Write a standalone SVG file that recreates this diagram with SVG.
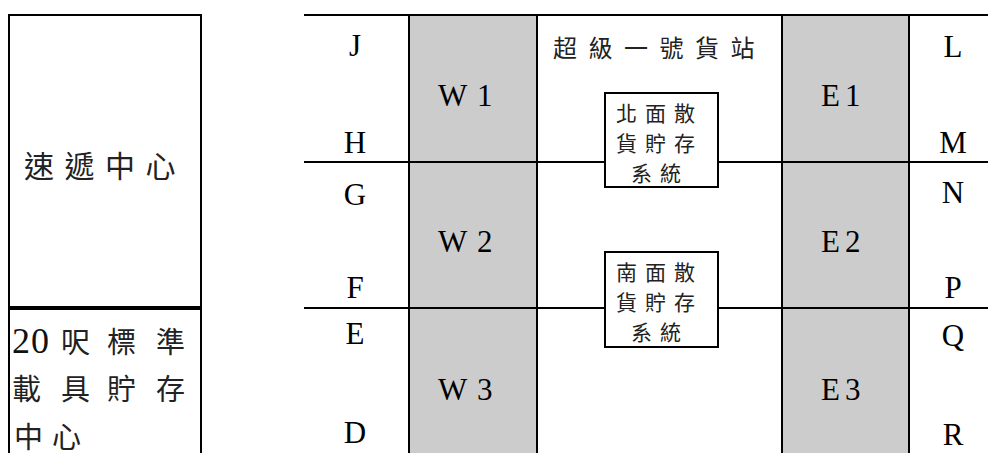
<svg xmlns="http://www.w3.org/2000/svg" width="988" height="453" viewBox="0 0 988 453">
<style>
.ln{stroke:#000;stroke-width:2;fill:none}
.gray{fill:#cccccc}
.lat{font-family:'Liberation Serif','Times New Roman',serif;font-size:31px;fill:#000}
.dig{font-family:'Liberation Serif','Times New Roman',serif;font-size:36px;fill:#111}
.cjk{font-family:'Liberation Serif','Noto Sans CJK TC',serif;fill:#222}
.box{fill:#fff;stroke:#000;stroke-width:2}
</style>
<rect width="988" height="453" fill="#fff"/>
<g id="grid">
<rect class="gray" x="409" y="15" width="128" height="438"/>
<rect class="gray" x="782" y="15" width="127" height="438"/>
<line class="ln" x1="304" y1="15" x2="988" y2="15"/>
<line class="ln" x1="409" y1="15" x2="409" y2="453"/>
<line class="ln" x1="537" y1="15" x2="537" y2="453"/>
<line class="ln" x1="782" y1="15" x2="782" y2="453"/>
<line class="ln" x1="909" y1="15" x2="909" y2="453"/>
</g>
<g id="connectors">
<line class="ln" x1="304" y1="162" x2="988" y2="162"/>
<line class="ln" x1="304" y1="308" x2="988" y2="308"/>
</g>
<g id="express-centre">
<path class="ln" d="M9 453V15H201V453"/>
<text class="cjk" x="24" y="177" font-size="30" letter-spacing="10.5">速遞中心</text>
</g>
<g id="container-centre">
<line x1="9" y1="308" x2="201" y2="308" stroke="#000" stroke-width="4"/>
<text class="cjk" font-size="29" y="353"><tspan class="dig" x="12">2</tspan><tspan class="dig" x="31">0</tspan><tspan x="61">呎</tspan><tspan x="107">標</tspan><tspan x="156">準</tspan></text>
<text class="cjk" font-size="29" y="400"><tspan x="12">載</tspan><tspan x="61">具</tspan><tspan x="107">貯</tspan><tspan x="156">存</tspan></text>
<text class="cjk" font-size="29" y="448"><tspan x="14">中</tspan><tspan x="52">心</tspan></text>
</g>
<g id="title">
<text class="cjk" x="553" y="57" font-size="24" letter-spacing="11.5">超級一號貨站</text>
</g>
<g id="north-bulk">
<rect class="box" x="605" y="93" width="113" height="94"/>
<text class="cjk" font-size="21" letter-spacing="8"><tspan x="616" y="121">北面散</tspan><tspan x="616" y="151">貨貯存</tspan><tspan x="631" y="181">系統</tspan></text>
</g>
<g id="south-bulk">
<rect class="box" x="605" y="252" width="113" height="95"/>
<text class="cjk" font-size="21" letter-spacing="8"><tspan x="616" y="280">南面散</tspan><tspan x="616" y="310">貨貯存</tspan><tspan x="631" y="340">系統</tspan></text>
</g>
<g id="west-labels">
<text class="lat" text-anchor="middle" x="355" y="56">J</text>
<text class="lat" text-anchor="middle" x="355" y="153">H</text>
<text class="lat" text-anchor="middle" x="355" y="205">G</text>
<text class="lat" text-anchor="middle" x="355" y="298">F</text>
<text class="lat" text-anchor="middle" x="355" y="344">E</text>
<text class="lat" text-anchor="middle" x="355" y="443">D</text>
</g>
<g id="W1"><text class="lat" y="106"><tspan x="438">W</tspan><tspan x="477">1</tspan></text></g>
<g id="W2"><text class="lat" y="252"><tspan x="438">W</tspan><tspan x="477">2</tspan></text></g>
<g id="W3"><text class="lat" y="400"><tspan x="438">W</tspan><tspan x="477">3</tspan></text></g>
<g id="E1"><text class="lat" y="106"><tspan x="821">E</tspan><tspan x="845">1</tspan></text></g>
<g id="E2"><text class="lat" y="252"><tspan x="821">E</tspan><tspan x="845">2</tspan></text></g>
<g id="E3"><text class="lat" y="400"><tspan x="821">E</tspan><tspan x="845">3</tspan></text></g>
<g id="east-labels">
<text class="lat" text-anchor="middle" x="953" y="57">L</text>
<text class="lat" text-anchor="middle" x="953" y="153">M</text>
<text class="lat" text-anchor="middle" x="953" y="203">N</text>
<text class="lat" text-anchor="middle" x="953" y="298">P</text>
<text class="lat" text-anchor="middle" x="953" y="346">Q</text>
<text class="lat" text-anchor="middle" x="953" y="445">R</text>
</g>
</svg>
